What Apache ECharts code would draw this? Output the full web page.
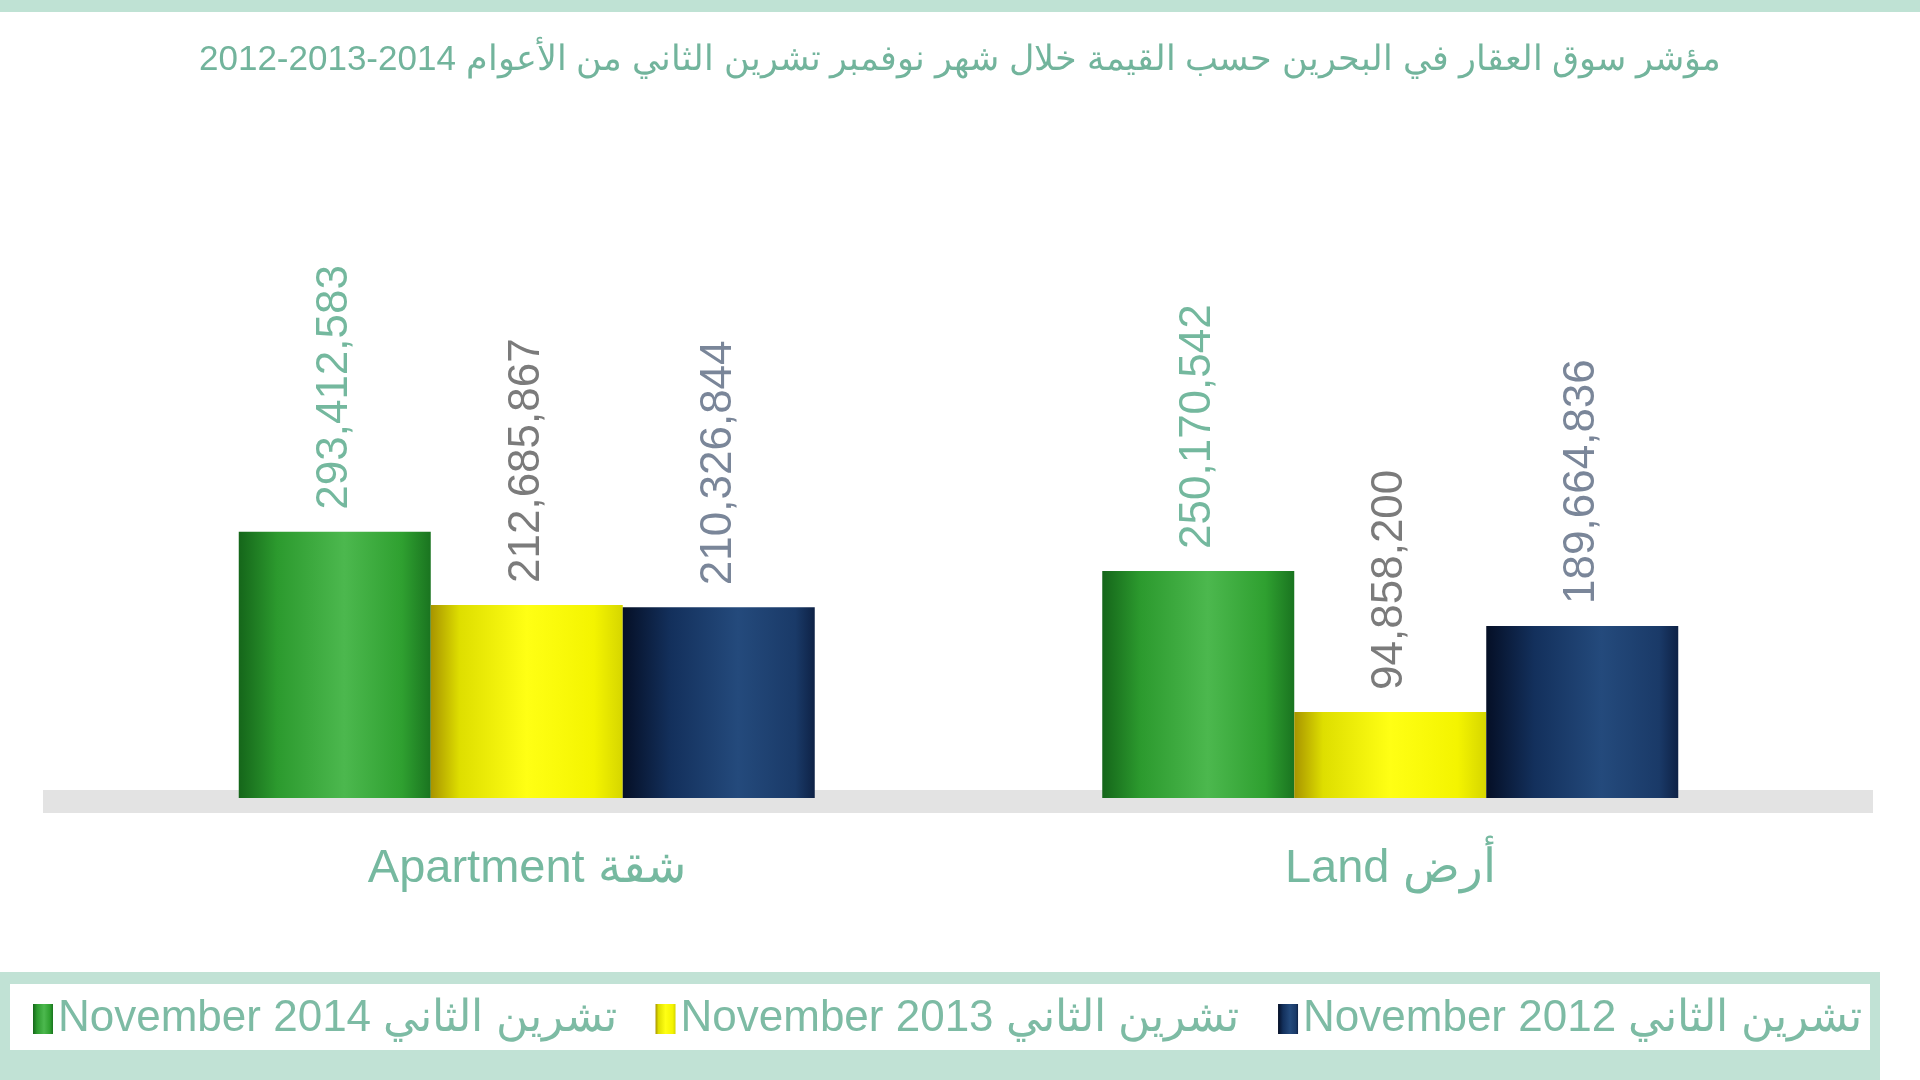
<!DOCTYPE html>
<html>
<head>
<meta charset="utf-8">
<title>chart</title>
<script src="https://cdn.jsdelivr.net/npm/echarts@6/dist/echarts.min.js"></script>
<style>
	html, body { margin: 0; padding: 0; background: #ffffff; }
	.main { width: 1920px; height: 1080px; }
</style>
</head>
<body>
<div class="main"></div>
<script>
// 数据
var categories = ['Apartment شقة', 'Land أرض'];
var seriesNames = ['November 2014 تشرين الثاني', 'November 2013 تشرين الثاني', 'November 2012 تشرين الثاني'];
var values2014 = [293412583, 250170542];
var values2013 = [212685867, 94858200];
var values2012 = [210326844, 189664836];

(function () {
	var myChart = echarts.init(document.querySelector('.main'));

	function fmt(p) {
		return String(p.value).replace(/\B(?=(\d{3})+(?!\d))/g, ',');
	}

	function barGrad(stops) {
		return {
			type: 'linear', x: 0, y: 0, x2: 1, y2: 0,
			colorStops: stops
		};
	}

	function valueLabel(color) {
		return {
			show: true,
			position: 'top',
			rotate: 90,
			align: 'left',
			verticalAlign: 'middle',
			distance: 22,
			fontSize: 44,
			fontFamily: 'Liberation Sans, Arial, sans-serif',
			color: color,
			formatter: fmt
		};
	}

	var option = {
		backgroundColor: '#ffffff',
		animation: false,
		title: {
			text: '2012-2013-2014 مؤشر سوق العقار في البحرين حسب القيمة خلال شهر نوفمبر تشرين الثاني من الأعوام',
			left: 'center',
			top: 38,
			textStyle: {
				color: '#72b49c',
				fontSize: 35,
				fontWeight: 'normal',
				fontFamily: 'Liberation Sans, Noto Sans, sans-serif'
			}
		},
		graphic: [
			{ type: 'rect', z: 0, shape: { x: 0, y: 0, width: 1920, height: 12 }, style: { fill: '#bfe2d4' } },
			{ type: 'rect', z: 0, shape: { x: 43, y: 790, width: 1830, height: 23 }, style: { fill: '#e3e3e3' } },
			{ type: 'rect', z: 0, shape: { x: 0, y: 972, width: 1880, height: 108 }, style: { fill: '#c1e2d5' } },
			{ type: 'rect', z: 0, shape: { x: 10, y: 984, width: 1860, height: 66 }, style: { fill: '#ffffff' } }
		],
		legend: {
			data: seriesNames,
			left: 28,
			top: 992,
			itemWidth: 20,
			itemHeight: 30,
			itemGap: 39,
			icon: 'rect',
			textStyle: {
				color: '#7dbba4',
				fontSize: 44,
				fontFamily: 'Liberation Sans, Noto Sans, sans-serif'
			}
		},
		grid: {
			left: 95,
			right: 98,
			top: 435,
			bottom: 282,
			containLabel: false
		},
		xAxis: {
			type: 'category',
			data: categories,
			axisTick: { show: false },
			axisLine: { show: false },
			axisLabel: {
				color: '#76b9a0',
				fontSize: 47,
				margin: 48,
				fontFamily: 'Liberation Sans, Noto Sans, sans-serif'
			}
		},
		yAxis: {
			type: 'value',
			min: 0,
			max: 400000000,
			show: false
		},
		series: [
			{
				name: seriesNames[0],
				type: 'bar',
				barWidth: 192,
				barGap: '0%',
				data: values2014,
				itemStyle: {
					color: barGrad([
						{ offset: 0, color: '#15661a' },
						{ offset: 0.2, color: '#2c9a2e' },
						{ offset: 0.55, color: '#4cb84e' },
						{ offset: 0.85, color: '#2fa030' },
						{ offset: 1, color: '#1a7420' }
					])
				},
				label: valueLabel('#74b89e')
			},
			{
				name: seriesNames[1],
				type: 'bar',
				barWidth: 192,
				barGap: '0%',
				data: values2013,
				itemStyle: {
					color: barGrad([
						{ offset: 0, color: '#a89400' },
						{ offset: 0.15, color: '#dede00' },
						{ offset: 0.5, color: '#ffff14' },
						{ offset: 0.85, color: '#f4f400' },
						{ offset: 1, color: '#d6d600' }
					])
				},
				label: valueLabel('#7b7b7b')
			},
			{
				name: seriesNames[2],
				type: 'bar',
				barWidth: 192,
				barGap: '0%',
				data: values2012,
				itemStyle: {
					color: barGrad([
						{ offset: 0, color: '#050f26' },
						{ offset: 0.25, color: '#13305c' },
						{ offset: 0.6, color: '#244a7c' },
						{ offset: 0.9, color: '#1a3a68' },
						{ offset: 1, color: '#0e2246' }
					])
				},
				label: valueLabel('#7a8699')
			}
		],
		color: ['#2a9a2c', '#ffff00', '#132f5a']
	};

	myChart.setOption(option);

	window.addEventListener('resize', function () {
		myChart.resize();
	});
})();
</script>
</body>
</html>
